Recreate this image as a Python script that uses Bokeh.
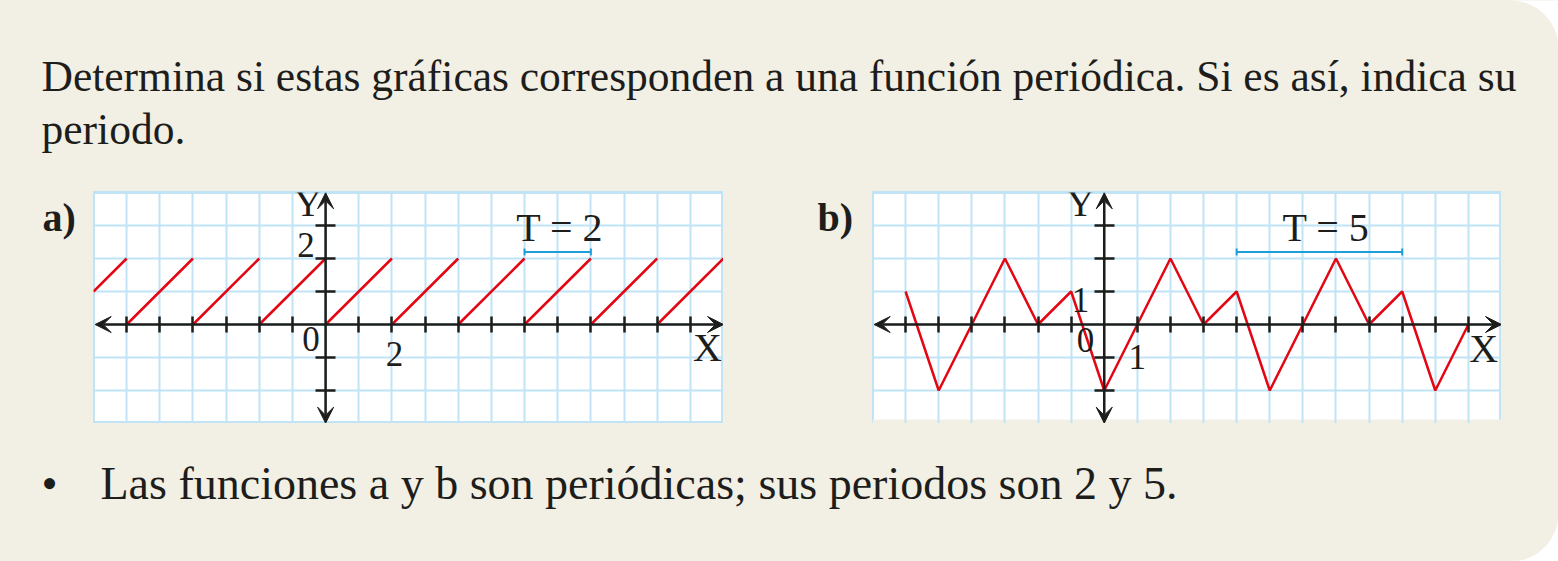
import numpy as np
from bokeh.plotting import figure
from bokeh.models import (Range1d, LinearAxis, Grid, FixedTicker, Arrow, VeeHead,
                          TeeHead, Label, ColumnDataSource, CustomJSTickFormatter)
from bokeh.layouts import column, row
from bokeh.embed import file_html
from bokeh.resources import INLINE

# ---------------- data ----------------
question_lines = [
    "Determina si estas gráficas corresponden a una función periódica. Si es así, indica su",
    "periodo.",
]
answer_text = "Las funciones a y b son periódicas; sus periodos son 2 y 5."
panel_labels = ["a)", "b)"]

x_lim = [-7, 12]
y_lim = [-3, 4]
grid_x = list(range(-7, 13))
grid_y = list(range(-3, 5))
ticks_x = [-6, -5, -4, -3, -2, -1, 1, 2, 3, 4, 5, 6, 7, 8, 9, 10, 11]
ticks_y = [-2, -1, 1, 2, 3]

# chart a: sawtooth segments (period 2)
saw_x0 = [-7, -6, -4, -2, 0, 2, 4, 6, 8, 10]
saw_y0 = [1, 0, 0, 0, 0, 0, 0, 0, 0, 0]
saw_x1 = [-6, -4, -2, 0, 2, 4, 6, 8, 10, 12]
saw_y1 = [2, 2, 2, 2, 2, 2, 2, 2, 2, 2]
period_a = [6, 8]
period_a_text = "T = 2"

# chart b: zig-zag (period 5)
zig_x = [-6, -5, -3, -2, -1, 0, 2, 3, 4, 5, 7, 8, 9, 10, 11]
zig_y = [1, -2, 2, 0, 1, -2, 2, 0, 1, -2, 2, 0, 1, -2, 0]
period_b = [4, 9]
period_b_text = "T = 5"

# ---------------- style ----------------
BEIGE = "#F2EFE4"
GRID = "#C0E3F5"
RED = "#E30613"
INK = "#1D1D1B"
BLUE = "#1E9FDB"
FONT = "Liberation Serif"
BASE_K = 0.38  # baseline correction (fraction of font size)

W = 1558
TOP_H, HEAD_H, FRAME_H, BOT_H = 172, 20, 231, 138
MID_H = HEAD_H + FRAME_H
LEFT_W, CHART_A_W, GAP_W, CHART_B_W = 93, 630, 149, 629
RIGHT_W = W - LEFT_W - CHART_A_W - GAP_W - CHART_B_W
RADIUS = 48


def plain_fig(w, h, fill=BEIGE):
    p = figure(width=w, height=h, x_range=Range1d(0, w), y_range=Range1d(h, 0),
               x_axis_type=None, y_axis_type=None, toolbar_location=None,
               output_backend="svg", min_border=0, outline_line_color=None,
               background_fill_color=fill, border_fill_color=fill)
    p.grid.visible = False
    return p


def text(p, s, x, y, size_px, align="left", bold=False):
    p.add_layout(Label(x=x, y=y, text=s, text_font=FONT,
                       text_font_size=f"{size_px}px", y_offset=BASE_K * size_px,
                       text_color=INK, text_align=align, text_baseline="alphabetic",
                       text_font_style="bold" if bold else "normal"))


def make_chart(w):
    p = figure(width=w, height=MID_H, x_range=Range1d(*x_lim), y_range=Range1d(*y_lim),
               x_axis_type=None, y_axis_type=None, toolbar_location=None,
               output_backend="svg", min_border=0, min_border_top=HEAD_H,
               background_fill_color="white", border_fill_color=BEIGE,
               outline_line_color=GRID, outline_line_width=3)
    p.add_layout(Grid(dimension=0, ticker=FixedTicker(ticks=grid_x),
                      grid_line_color=GRID, grid_line_width=2))
    p.add_layout(Grid(dimension=1, ticker=FixedTicker(ticks=grid_y),
                      grid_line_color=GRID, grid_line_width=2))
    blank = CustomJSTickFormatter(code="return ''")
    xa = LinearAxis(fixed_location=0, ticker=FixedTicker(ticks=ticks_x),
                    axis_line_color=None, major_tick_line_color=INK,
                    major_tick_line_width=2.5, major_tick_in=8, major_tick_out=8,
                    minor_tick_line_color=None, formatter=blank)
    ya = LinearAxis(fixed_location=0, ticker=FixedTicker(ticks=ticks_y),
                    axis_line_color=None, major_tick_line_color=INK,
                    major_tick_line_width=2.5, major_tick_in=10, major_tick_out=10,
                    minor_tick_line_color=None, formatter=blank)
    p.add_layout(xa, "below")
    p.add_layout(ya, "left")
    head = dict(size=16, fill_color=INK, line_color=INK, line_width=1)
    p.add_layout(Arrow(start=VeeHead(**head), end=VeeHead(**head),
                       x_start=x_lim[0] + 0.05, y_start=0, x_end=x_lim[1], y_end=0,
                       line_color=INK, line_width=2.5))
    p.add_layout(Arrow(start=VeeHead(**head), end=VeeHead(**head),
                       x_start=0, y_start=y_lim[0] + 0.01, x_end=0, y_end=y_lim[1] - 0.01,
                       line_color=INK, line_width=2.5))
    return p


def bracket(p, xs, y):
    tee = dict(size=7, line_color=BLUE, line_width=2)
    p.add_layout(Arrow(start=TeeHead(**tee), end=TeeHead(**tee),
                       x_start=xs[0], y_start=y, x_end=xs[1], y_end=y,
                       line_color=BLUE, line_width=2))


# ---------------- top text ----------------
top = plain_fig(W, TOP_H)
ang = np.linspace(np.pi / 2, 0, 24)
corner_x = [W - RADIUS] + list(W - RADIUS + RADIUS * np.cos(ang)) + [W + 1, W + 1]
corner_y = [-1] + list(RADIUS - RADIUS * np.sin(ang)) + [RADIUS, -1]
top.patch(corner_x, corner_y, fill_color="white", line_color=None)
text(top, question_lines[0], 41, 92, 43.5)
text(top, question_lines[1], 41, 145, 43.5)

# ---------------- charts ----------------
left = plain_fig(LEFT_W, MID_H)
text(left, panel_labels[0], 42, 216 - TOP_H, 40, bold=True)

ca = make_chart(CHART_A_W)
ca.segment(x0="x0", y0="y0", x1="x1", y1="y1",
           source=ColumnDataSource(dict(x0=saw_x0, y0=saw_y0, x1=saw_x1, y1=saw_y1)),
           line_color=RED, line_width=2.5)
bracket(ca, period_a, 2.2)
text(ca, "Y", -0.12, 3.23, 38, align="right")
text(ca, "2", -0.33, 2.0, 35, align="right")
text(ca, "0", -0.18, -0.85, 35, align="right")
text(ca, "2", 2.08, -1.3, 35, align="center")
text(ca, "X", 11.95, -1.15, 40, align="right")
text(ca, period_a_text, 7.06, 2.47, 40, align="center")

gap = plain_fig(GAP_W, MID_H)
text(gap, panel_labels[1], 94, 216 - TOP_H, 40, bold=True)

cb = make_chart(CHART_B_W)
cb.quad(left=x_lim[0], right=x_lim[1], bottom=y_lim[0], top=y_lim[0] + 0.12,
        fill_color=BEIGE, line_color=None, level="image")
cb.line(zig_x, zig_y, line_color=RED, line_width=2.5)
bracket(cb, period_b, 2.2)
text(cb, "Y", -0.3, 3.23, 38, align="right")
text(cb, "1", -0.45, 0.33, 35, align="right")
text(cb, "0", -0.3, -0.88, 35, align="right")
text(cb, "1", 1.0, -1.39, 35, align="center")
text(cb, "X", 11.9, -1.18, 40, align="right")
text(cb, period_b_text, 6.7, 2.47, 40, align="center")

right = plain_fig(RIGHT_W, MID_H)

# ---------------- bottom text ----------------
bot = plain_fig(W, BOT_H)
ang2 = np.linspace(0, -np.pi / 2, 24)
bcorner_x = [W + 1] + list(W - RADIUS + RADIUS * np.cos(ang2)) + [W + 1]
bcorner_y = [BOT_H - RADIUS] + list(BOT_H - RADIUS - RADIUS * np.sin(ang2)) + [BOT_H + 1]
bot.patch(bcorner_x, bcorner_y, fill_color="white", line_color=None)
text(bot, "•", 49, 77, 46, align="center")
text(bot, answer_text, 100, 77, 46)

layout = column(top, row(left, ca, gap, cb, right, styles={"background-color": BEIGE}),
                bot, styles={"background-color": BEIGE})
open("out.html", "w").write(file_html(layout, INLINE))
